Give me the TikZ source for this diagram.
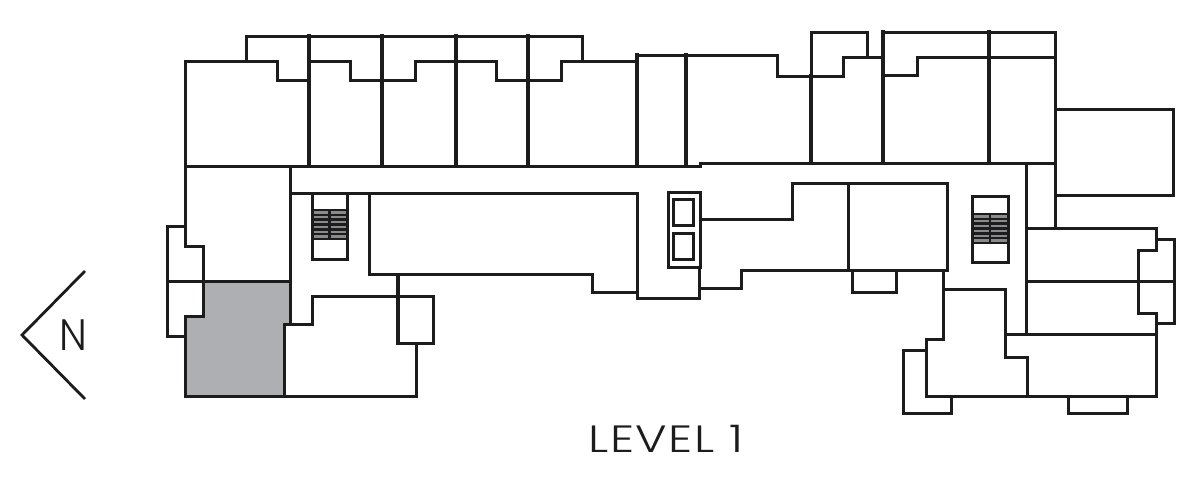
\documentclass[tikz,border=0pt]{standalone}
\usepackage{fontspec}
\setmainfont{Poppins Light}
\newfontfamily\spacedfont[LetterSpace=3]{Poppins Light}
\definecolor{wall}{HTML}{1C1C1C}
\definecolor{unit}{HTML}{AEAFB2}
\definecolor{stairbg}{HTML}{8A8A8C}
\tikzset{
  wallline/.style={draw=wall,line width=3pt,line cap=rect,line join=miter},
  party/.style={draw=wall,line width=3.1pt,line cap=rect},
  tread/.style={draw=wall,line width=2.4pt},
  label/.style={inner sep=0pt,text=wall},
}
\newcommand{\stairset}[6]{% x0 x1 ytop h0 h1 ybottom
  \fill[stairbg] (#1,#4) rectangle (#2,#5);
  \foreach \k in {0,...,6}{
    \pgfmathsetmacro{\yy}{#4+\k*(#5-#4)/6}
    \draw[tread] (#1,\yy) -- (#2,\yy);
  }
  \draw[wallline] (#1,#3) rectangle (#2,#6);
  \draw[tread] ({(#1+#2)/2},#4) -- ({(#1+#2)/2},#5);
}
\begin{document}
\begin{tikzpicture}[x=1pt,y=-1pt]
\useasboundingbox (0,0) rectangle (1192,477);
% highlighted unit
\fill[unit] (203,281) -- (290,281) -- (290,324) -- (284,324) -- (284,396) -- (185,396) -- (185,316) -- (203,316) -- cycle;
% top row, west part
\draw[wallline] (185,166) -- (185,61) -- (277,61) -- (277,80) -- (309,80);
\draw[wallline] (246,61) -- (246,36) -- (582,36) -- (582,61);
\draw[wallline] (309,61) -- (350,61) -- (350,80) -- (415,80) -- (415,61) -- (496,61) -- (496,80) -- (561,80) -- (561,61) -- (637,61);
\draw[party] (309,36) -- (309,166);
\draw[party] (382,36) -- (382,166);
\draw[party] (456,36) -- (456,166);
\draw[party] (528,36) -- (528,166);
\draw[party] (637,55) -- (637,166);
\draw[party] (686,55) -- (686,166);
% top row, east part
\draw[wallline] (637,55) -- (777,55) -- (777,76) -- (843,76) -- (843,57) -- (883,57);
\draw[wallline] (811,76) -- (811,32) -- (867,32) -- (867,57);
\draw[party] (811,76) -- (811,163);
\draw[wallline] (883,32) -- (1055,32) -- (1055,228);
\draw[wallline] (883,75) -- (917,75) -- (917,57) -- (1055,57);
\draw[party] (883,32) -- (883,163);
\draw[party] (989,32) -- (989,163);
\draw[wallline] (1055,109) -- (1173,109) -- (1173,195) -- (1055,195);
% corridor
\draw[wallline] (185,166) -- (700,166) -- (700,163) -- (1055,163);
\draw[wallline] (290,166) -- (290,324);
\draw[wallline] (290,193) -- (637,193) -- (637,298) -- (699,298) -- (699,267);
% west wing
\draw[wallline] (185,166) -- (185,246) -- (203,246) -- (203,316) -- (185,316) -- (185,396) -- (416,396) -- (416,343);
\draw[wallline] (185,226) -- (167,226) -- (167,336) -- (185,336);
\draw[wallline] (167,281) -- (290,281);
\draw[wallline] (290,324) -- (284,324) -- (284,396);
\draw[wallline] (290,324) -- (312,324) -- (312,296) -- (433,296) -- (433,343) -- (398,343);
\draw[party] (398,275) -- (398,343);
\draw[wallline] (369,193) -- (369,274) -- (592,274) -- (592,292) -- (637,292);
% core
\draw[wallline] (668,192) rectangle (700,267);
\draw[wallline] (673,199) rectangle (693,225);
\draw[wallline] (673,233) rectangle (693,259);
\draw[wallline] (700,219) -- (792,219) -- (792,183) -- (947,183) -- (947,270) -- (741,270) -- (741,288) -- (699,288);
\draw[wallline] (848,183) -- (848,270);
\draw[wallline] (852,270) -- (852,292) -- (896,292) -- (896,270);
% stairs
\stairset{312}{347}{193}{210}{239}{259}
\stairset{972}{1008}{196}{214}{243}{262}
% east wing
\draw[wallline] (1026,163) -- (1026,334);
\draw[wallline] (1026,228) -- (1156,228) -- (1156,250) -- (1138,250) -- (1138,313) -- (1156,313) -- (1156,396) -- (926,396) -- (926,339) -- (943,339) -- (943,270);
\draw[wallline] (1156,239) -- (1174,239) -- (1174,323) -- (1156,323);
\draw[wallline] (1026,281) -- (1174,281);
\draw[wallline] (1156,334) -- (1005,334) -- (1005,357) -- (1027,357) -- (1027,396);
\draw[wallline] (943,289) -- (1005,289) -- (1005,334);
\draw[wallline] (926,350) -- (903,350) -- (903,413) -- (951,413) -- (951,396);
\draw[wallline] (1068,396) -- (1068,413) -- (1127,413) -- (1127,396);
% north sign
\coordinate (nt) at (85,271);
\coordinate (nv) at (22,335);
\coordinate (nb) at (85,399);
\draw[draw=wall,line width=2.8pt] (nt) -- (nv) -- (nb);
\node[label,font=\fontsize{44}{44}\selectfont,xscale=0.92,transform shape] (north) at (73,335) {N};
\node[label,font=\fontsize{38}{38}\selectfont\spacedfont,xscale=1.26,transform shape] (level) at (666,439) {LEVEL 1};
\end{tikzpicture}
\end{document}
